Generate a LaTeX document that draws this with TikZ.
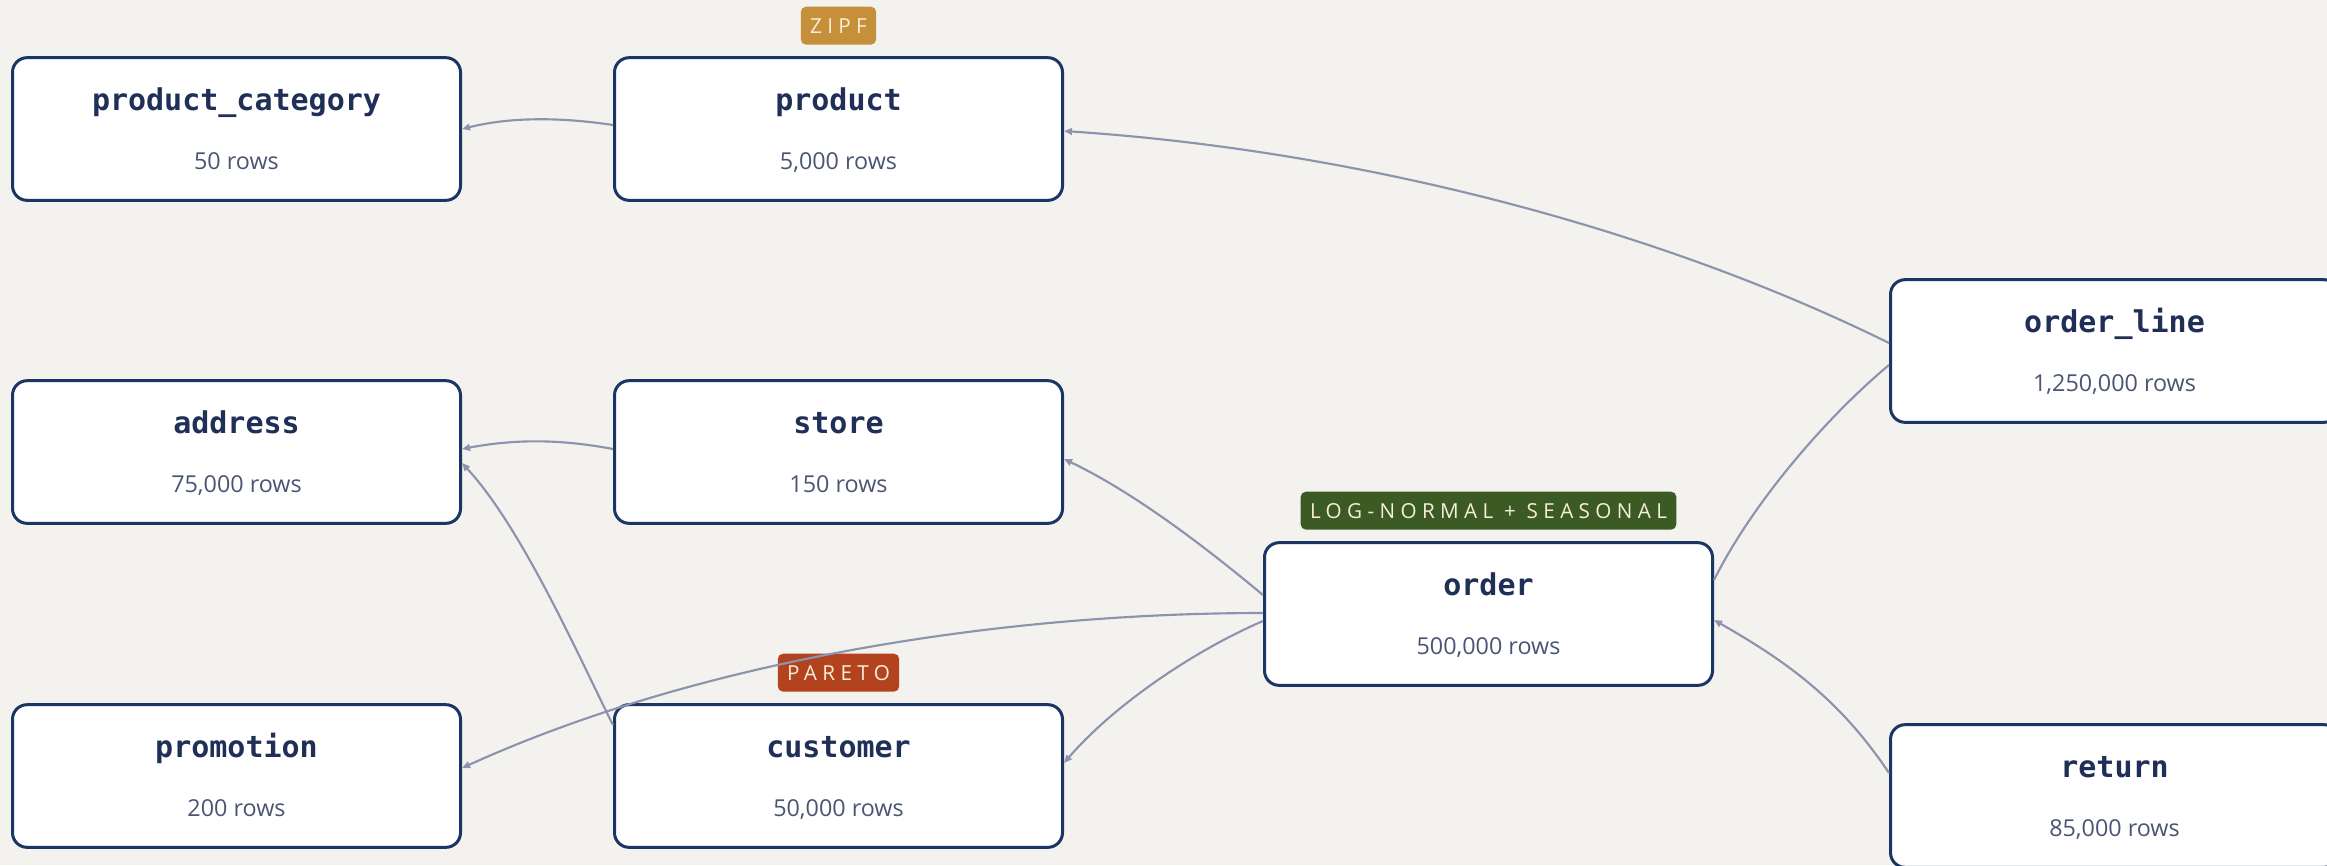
\documentclass[tikz,border=0pt]{standalone}
\usepackage{fontspec}
\setmainfont{Open Sans}
\newfontfamily\titlefont{DejaVu Sans Mono}
\newfontfamily\badgefont[LetterSpace=26]{Open Sans}
\usetikzlibrary{calc,arrows.meta}

\definecolor{bg}{HTML}{F3F2EE}
\definecolor{boxline}{HTML}{1B3564}
\definecolor{titlecol}{HTML}{1F2F57}
\definecolor{rowcol}{HTML}{4B5573}
\definecolor{edgecol}{HTML}{8C94AD}
\definecolor{zipfcol}{HTML}{C68F3A}
\definecolor{paretocol}{HTML}{B3431E}
\definecolor{lognormcol}{HTML}{3B5A24}
\definecolor{badgetext}{HTML}{F6EFD9}

\newcommand\mktable[5]{%
  \node[table] (#1) at (#2,#3) {};
  \node[ttl] (#1-t) at ($(#1.center)+(0,-19)$) {#4};
  \node[rowtxt] (#1-r) at ($(#1.center)+(0,40)$) {#5};
}

\begin{document}
\begin{tikzpicture}[x=0.75pt,y=-0.75pt,
  table/.style={draw=boxline, line width=2.25pt, fill=white, rounded corners=11pt,
    minimum width=336pt, minimum height=107pt, inner sep=0pt},
  ttl/.style={anchor=base, text=titlecol, inner sep=0pt,
    font=\titlefont\bfseries\fontsize{22.5pt}{27pt}\selectfont},
  rowtxt/.style={anchor=base, text=rowcol, inner sep=0pt,
    font=\fontsize{17.5pt}{21pt}\selectfont},
  badge/.style={rounded corners=4pt, text=badgetext, minimum height=28.5pt,
    inner xsep=7pt, inner ysep=0pt, text height=11pt, text depth=0pt,
    font=\badgefont\fontsize{15.5pt}{18pt}\selectfont},
  fk/.style={draw=edgecol, line width=1.6pt, -{Triangle[length=6pt,width=5pt]}},
  link/.style={draw=edgecol, line width=1.6pt}
]
\fill[bg] (0,0) rectangle (2327,865);
\useasboundingbox (0,0) rectangle (2327,865);

\mktable{pc}{236.5}{129}{product\_category}{50 rows}
\mktable{product}{838.5}{129}{product}{5,000 rows}
\mktable{addr}{236.5}{452}{address}{75,000 rows}
\mktable{store}{838.5}{452}{store}{150 rows}
\mktable{promo}{236.5}{776}{promotion}{200 rows}
\mktable{cust}{838.5}{776}{customer}{50,000 rows}
\mktable{order}{1488.5}{614}{order}{500,000 rows}
\mktable{ol}{2114.5}{351}{order\_line}{1,250,000 rows}
\mktable{ret}{2114.5}{796}{return}{85,000 rows}

\node[badge, fill=zipfcol] (b-zipf) at ($(product.north)+(0,-30.5)$) {ZIPF};
\node[badge, fill=paretocol] (b-pareto) at ($(cust.north)+(0,-30.5)$) {PARETO};
\node[badge, fill=lognormcol] (b-lognorm) at ($(order.north)+(0,-30.5)$) {LOG-NORMAL + SEASONAL};

\draw[fk] ($(product.west)+(0,-4)$) .. controls (560,117) and (510,117) .. (pc.east);
\draw[fk] ($(ol.west)+(0,-8)$) .. controls (1650,225) and (1350,150) .. ($(product.east)+(0,2)$);
\draw[link] ($(order.east)+(0,-34)$) .. controls (1754,500) and (1829,415) .. ($(ol.west)+(0,14)$);
\draw[fk] ($(ret.west)+(0,-23)$) .. controls (1839,698) and (1784,660) .. ($(order.east)+(0,6)$);
\draw[fk] ($(order.west)+(0,-19)$) .. controls (1203,545) and (1133,492) .. ($(store.east)+(0,7)$);
\draw[fk] ($(order.west)+(0,-1)$) .. controls (1000,613) and (700,660) .. ($(promo.east)+(0,-8)$);
\draw[fk] ($(order.west)+(0,7)$) .. controls (1193,651) and (1113,706) .. ($(cust.east)+(0,-13)$);
\draw[fk] ($(store.west)+(0,-3)$) .. controls (560,439) and (515,439) .. ($(addr.east)+(0,-3)$);
\draw[fk] ($(cust.west)+(0,-51)$) .. controls (578,655) and (522,528) .. ($(addr.east)+(0,11)$);
\end{tikzpicture}
\end{document}
